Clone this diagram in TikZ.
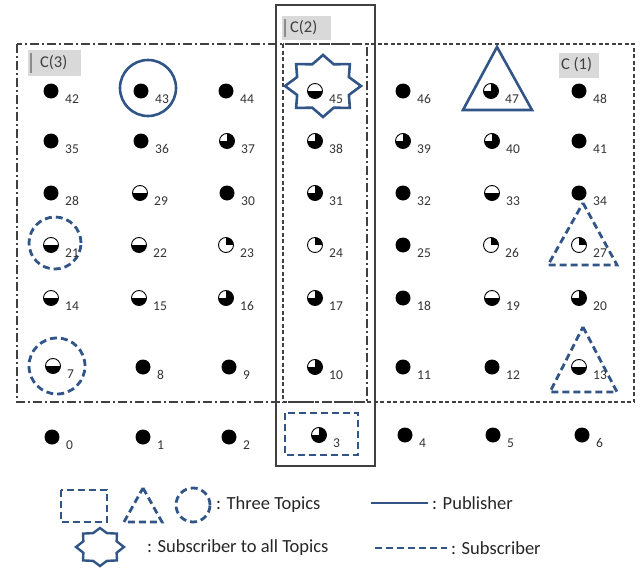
\documentclass[tikz,border=0pt]{standalone}
\usepackage{fontspec}
\setmainfont{Carlito}
\usetikzlibrary{calc}
\definecolor{topicblue}{RGB}{50,85,135}
\definecolor{framegray}{RGB}{64,64,64}
\definecolor{labelbg}{RGB}{217,217,217}
\definecolor{bargray}{RGB}{140,140,140}
\begin{document}
\begin{tikzpicture}[x=1pt,y=-1pt,
  dotbase/.style={circle, inner sep=0pt, minimum size=15pt, line width=0.9pt},
  glyph/.is choice,
  glyph/full/.style={dotbase, fill=black},
  glyph/half/.style={dotbase, draw=black, fill=white,
     path picture={\fill[black] (path picture bounding box.west) rectangle (path picture bounding box.south east);}},
  glyph/tq/.style={dotbase, draw=black, fill=black,
     path picture={\fill[white] (path picture bounding box.center) rectangle (path picture bounding box.north west);}},
  glyph/qt/.style={dotbase, draw=black, fill=white,
     path picture={\fill[black] (path picture bounding box.center) rectangle (path picture bounding box.north east);}},
  numlab/.style={inner sep=0pt, anchor=base west, text=black!80, font=\fontsize{13.5}{14}\selectfont},
  pub/.style={draw=topicblue, line width=2.6pt, line join=miter},
  sub/.style={draw=topicblue, line width=2.8pt, dash pattern=on 7pt off 4pt},
  frameC3/.style={draw=framegray, line width=1.3pt, dash pattern=on 9pt off 3pt on 2pt off 3pt},
  frameC1/.style={draw=framegray, line width=1.3pt, dash pattern=on 4pt off 2.5pt},
  frameC2/.style={draw=framegray, line width=1.2pt},
  ctag/.style={fill=labelbg, inner sep=0pt, text=framegray, font=\fontsize{16.5}{17}\selectfont},
  legtext/.style={inner sep=0pt, anchor=west, text=black!85, font=\fontsize{18.5}{19}\selectfont}
]
\useasboundingbox (0,0) rectangle (641,581);

% cluster frames
\draw[frameC2] (276,5) rectangle (375,466);
\draw[frameC3] (17,44) rectangle (367,402);
\draw[frameC1] (283,44) rectangle (634,402);

% cluster tags
\fill[labelbg] (28,50) rectangle (81,76);
\draw[bargray, line width=1.6pt] (31,53) -- (31,73);
\node[ctag, anchor=west] (c3) at (40,63) {C(3)};
\fill[labelbg] (282,16) rectangle (331,40);
\draw[bargray, line width=1.6pt] (285,19) -- (285,37);
\node[ctag, anchor=west] (c2) at (290,28) {C(2)};
\fill[labelbg] (559,53) rectangle (599,78);
\node[ctag, anchor=west] (c1) at (561,65) {C (1)};

% publisher shapes
\node[pub, circle, minimum size=56pt, inner sep=0pt] (pc43) at (148,88) {};
\draw[pub] (497,47) -- (532,110) -- (463,110) -- cycle;
\draw[pub] plot[samples at={0,...,15}] ({323+(isodd(\x)?28:38)*cos(90+22.5*\x)}, {86-(isodd(\x)?23.5:31)*sin(90+22.5*\x)}) -- cycle;

% subscriber shapes
\node[sub, circle, minimum size=52pt, inner sep=0pt] (sc21) at (55,243) {};
\node[sub, circle, minimum size=56pt, inner sep=0pt] (sc7) at (57,366) {};
\draw[sub] (583,203) -- (617,265) -- (548,265) -- cycle;
\draw[sub] (583,327) -- (617,392) -- (550,392) -- cycle;
\draw[sub] (285,413) rectangle (358,455);

% grid nodes
\foreach \n/\x/\y/\t in {
  42/51/91/full, 43/141/91/full, 44/226/91/full, 45/315/91/half, 46/403/91/full, 47/491/91/tq, 48/579/91/full,
  35/51/141/full, 36/141/141/full, 37/227/141/tq, 38/315/141/tq, 39/403/141/tq, 40/492/141/tq, 41/579/141/full,
  28/51/193/full, 29/140/193/half, 30/227/193/full, 31/315/193/tq, 32/403/193/full, 33/492/193/half, 34/579/193/full,
  21/51/245/half, 22/139/245/half, 23/226/245/qt, 24/315/245/qt, 25/403/245/full, 26/491/245/qt, 27/579/245/qt,
  14/51/298/half, 15/139/298/half, 16/226/298/tq, 17/315/298/tq, 18/403/298/full, 19/492/298/half, 20/579/298/tq,
  7/53/366/half, 8/143/367/full, 9/229/367/full, 10/315/367/tq, 11/403/367/full, 12/492/367/full, 13/579/367/half,
  0/52/437/full, 1/143/437/full, 2/229/437/full, 3/319/435/tq, 4/405/435/full, 5/493/435/full, 6/582/435/full}
{
  \node[glyph=\t] (n\n) at (\x,\y) {};
  \node[numlab] (l\n) at ($(\x,\y)+(14,12)$) {\n};
}

% legend
\draw[sub] (61,490) rectangle (107,522);
\draw[sub] (143,488) -- (162,522) -- (124,522) -- cycle;
\node[sub, circle, minimum size=34pt, inner sep=0pt] (legc) at (193,505) {};
\node[legtext] (t1) at (216,505) {: Three Topics};
\coordinate (pa) at (371,503);
\coordinate (pb) at (428,503);
\draw[pub] (pa) -- (pb);
\node[legtext] (t2) at (432,503) {: Publisher};
\draw[pub, line width=2.4pt] plot[samples at={0,...,15}] ({100+(isodd(\x)?18:24)*cos(90+22.5*\x)}, {547-(isodd(\x)?15:19)*sin(90+22.5*\x)}) -- cycle;
\node[legtext] (t3) at (147,548) {: Subscriber to all Topics};
\coordinate (sa) at (375,548);
\coordinate (sb) at (447,548);
\draw[sub] (sa) -- (sb);
\node[legtext] (t4) at (451,548) {: Subscriber};
\end{tikzpicture}
\end{document}
